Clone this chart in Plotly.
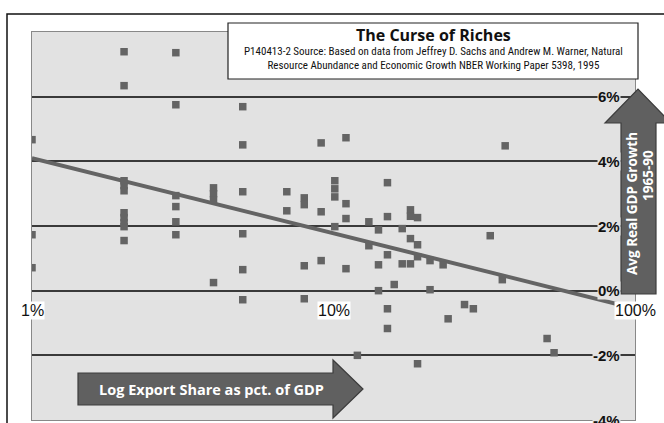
import math
import plotly.graph_objects as go

# ---- data (export share % of GDP, avg real GDP growth % 1965-90) ----
export_share = [1.0, 1.0, 1.0,
                2.02, 2.02, 2.02, 2.02, 2.02, 2.02, 2.02, 2.02, 2.02, 2.02,
                3.0, 3.0, 3.0, 3.0, 3.0, 3.0,
                4.0, 4.0, 4.0, 4.0,
                5.0, 5.0, 5.0, 5.0, 5.0, 5.0,
                7.0, 7.0,
                8.0, 8.0, 8.0, 8.0,
                9.1, 9.1, 9.1,
                10.1, 10.1, 10.1, 10.1,
                11.0, 11.0, 11.0, 11.0,
                12.0,
                13.1, 13.1,
                14.1, 14.1, 14.1,
                15.1, 15.1, 15.1, 15.1, 15.1,
                15.9,
                16.9, 16.9,
                18.0, 18.0, 18.0, 18.0,
                19.0, 19.0, 19.0, 19.0,
                20.9, 20.9,
                23.1, 24.0, 27.2, 29.1, 33.1, 36.3, 37.1, 51.1, 53.9]
gdp_growth = [4.67, 1.73, 0.71,
              7.39, 6.34, 3.40, 3.25, 3.09, 2.41, 2.26, 2.10, 1.98, 1.55,
              7.36, 5.75, 2.94, 2.60, 2.13, 1.73,
              3.18, 3.00, 2.81, 0.25,
              5.69, 4.51, 3.06, 1.76, 0.65, -0.28,
              3.06, 2.47,
              2.87, 2.66, 0.77, -0.25,
              4.57, 2.44, 0.93,
              3.40, 3.15, 2.90, 1.98,
              4.73, 2.69, 2.23, 0.68,
              -2.00,
              2.13, 1.39,
              1.88, 0.80, 0.00,
              3.34, 2.29, 1.11, -0.56, -1.17,
              0.19,
              1.92, 0.83,
              2.50, 2.30, 1.61, 0.83,
              2.26, 1.42, 1.05, -2.26,
              0.93, 0.03,
              0.80, -0.87, -0.43, -0.56, 1.70, 0.34, 4.48, -1.48, -1.92]

trend_x = [1.0, 100.0]
trend_y = [4.1, -0.55]

x_tick_vals = [1, 10, 100]
x_tick_text = ["1%", "10%", "100%"]
y_tick_vals = [6, 4, 2, 0, -2, -4]
y_tick_text = ["6%", "4%", "2%", "0%", "-2%", "-4%"]

title_text = "The Curse of Riches"
source_text = ("P140413-2 Source: Based on data from Jeffrey D. Sachs and Andrew M. Warner, Natural<br>"
               "Resource Abundance and Economic Growth NBER Working Paper 5398, 1995")
y_arrow_text = "Avg Real GDP Growth"
y_arrow_sub = "1965-90"
x_arrow_text = "Log Export Share as pct. of GDP"

# ---- geometry helpers (pixel -> paper) ----
W, H = 664, 423
L, R, T, B = 32, 29, 32, 3
PW, PH = W - L - R, H - T - B


def px(x):
    return (x - L) / PW


def py(y):
    return (H - B - y) / PH


PLOT_BG = "#e2e2e2"
MARK = "#646464"
ARROW = "#606060"

fig = go.Figure()
fig.add_trace(go.Scatter(
    x=trend_x, y=trend_y, mode="lines",
    line=dict(color=MARK, width=4), hoverinfo="skip", showlegend=False))
fig.add_trace(go.Scatter(
    x=export_share, y=gdp_growth, mode="markers",
    marker=dict(symbol="square", size=7.5, color=MARK, line=dict(width=0)),
    showlegend=False))

shapes = []
# outer frame
shapes.append(dict(type="rect", xref="paper", yref="paper",
                   x0=px(7), x1=px(700), y0=py(440), y1=py(14),
                   line=dict(color="#111", width=1.5), fillcolor="rgba(0,0,0,0)", layer="below"))
# title box
shapes.append(dict(type="rect", xref="paper", yref="paper",
                   x0=px(228), x1=px(638), y0=py(79), y1=py(23),
                   line=dict(color="#222", width=1.2), fillcolor="white"))
# up arrow
ua = [(621, 294), (656, 294), (656, 123), (671, 123), (638, 89), (605, 123), (621, 123)]
path = "M " + " L ".join(f"{px(a)},{py(b)}" for a, b in ua) + " Z"
shapes.append(dict(type="path", xref="paper", yref="paper", path=path,
                   fillcolor=ARROW, line=dict(color="#3c3c3c", width=1.2)))
# right arrow
ra = [(78, 373), (333, 373), (333, 360), (363, 389), (333, 418), (333, 405), (78, 405)]
path = "M " + " L ".join(f"{px(a)},{py(b)}" for a, b in ra) + " Z"
shapes.append(dict(type="path", xref="paper", yref="paper", path=path,
                   fillcolor=ARROW, line=dict(color="#3c3c3c", width=1.2)))

annotations = []
annotations.append(dict(xref="paper", yref="paper", x=px(433), y=py(35),
                        text=f"<b>{title_text}</b>", showarrow=False,
                        font=dict(family="Open Sans, Lato, sans-serif", size=16, color="#111"),
                        xanchor="center", yanchor="middle"))
annotations.append(dict(xref="paper", yref="paper", x=px(433), y=py(59),
                        text=source_text, showarrow=False,
                        font=dict(family="Liberation Sans Narrow, Arial Narrow, Roboto Condensed, sans-serif",
                                  size=11, color="#111"),
                        xanchor="center", yanchor="middle", align="center"))
for v, t in zip(x_tick_vals, x_tick_text):
    annotations.append(dict(x=math.log10(v), y=-0.62, xref="x", yref="y",
                            text=t, showarrow=False, bgcolor="white", borderpad=0,
                            font=dict(family="Liberation Sans, Arial, sans-serif", size=16, color="#111"),
                            xanchor="center", yanchor="middle"))
for v, t in zip(y_tick_vals, y_tick_text):
    annotations.append(dict(x=px(621), y=v, xref="paper", yref="y",
                            text=f"<b>{t}</b>", showarrow=False, bgcolor=PLOT_BG, borderpad=0,
                            font=dict(family="Liberation Sans, Arial, sans-serif", size=15, color="#111"),
                            xanchor="right", yanchor="middle"))
annotations.append(dict(xref="paper", yref="paper", x=px(632), y=py(204),
                        text=f"<b>{y_arrow_text}</b>", showarrow=False, textangle=-90,
                        font=dict(family="Open Sans, Lato, sans-serif", size=13.5, color="white"),
                        xanchor="center", yanchor="middle"))
annotations.append(dict(xref="paper", yref="paper", x=px(648), y=py(176),
                        text=f"<b>{y_arrow_sub}</b>", showarrow=False, textangle=-90,
                        font=dict(family="Open Sans, Lato, sans-serif", size=13.5, color="white"),
                        xanchor="center", yanchor="middle"))
annotations.append(dict(xref="paper", yref="paper", x=px(211), y=py(389),
                        text=f"<b>{x_arrow_text}</b>", showarrow=False,
                        font=dict(family="Open Sans, Lato, sans-serif", size=14.5, color="white"),
                        xanchor="center", yanchor="middle"))

fig.update_layout(
    width=W, height=H,
    margin=dict(l=L, r=R, t=T, b=B, pad=0),
    paper_bgcolor="white", plot_bgcolor=PLOT_BG,
    shapes=shapes, annotations=annotations,
    showlegend=False,
    xaxis=dict(type="log", range=[0, 2], showgrid=False, zeroline=False,
               showticklabels=False, ticks="", showline=True, linecolor="#888",
               linewidth=1, mirror=True, fixedrange=True),
    yaxis=dict(range=[-4, 8], dtick=2, tick0=0, showgrid=True, gridcolor="#3a3a3a",
               gridwidth=1.5, zeroline=False, showticklabels=False, ticks="",
               showline=True, linecolor="#888", linewidth=1, mirror=True, fixedrange=True),
)

fig.write_html("out.html", config={"displayModeBar": False},
               post_script="document.body.style.margin='0';document.body.style.overflow='hidden';")
